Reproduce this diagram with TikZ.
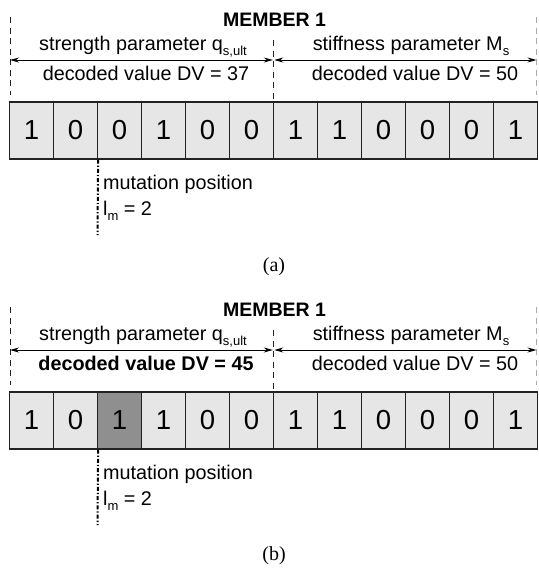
\documentclass[tikz,border=0pt]{standalone}
\usepackage{fontspec}
\setmainfont{Liberation Sans}
\newfontfamily\capfont{Liberation Serif}
\usetikzlibrary{arrows.meta}
\definecolor{cellgray}{HTML}{E6E6E6}
\definecolor{darkcell}{HTML}{8F8F8F}
\definecolor{linegray}{HTML}{222222}
\definecolor{edgegray}{HTML}{AAAAAA}
\tikzset{
 cell/.style={draw=linegray, line width=1.2pt, minimum width=44pt, minimum height=57pt, inner sep=0pt, font=\fontsize{27.5}{27.5}\selectfont},
 lbl/.style={inner sep=0pt, anchor=base, font=\fontsize{19.8}{22}\selectfont},
 bound/.style={draw=linegray, line width=1pt, dash pattern=on 6pt off 4.5pt},
 dim/.style={draw=black, line width=0.9pt, {Stealth[length=9pt,width=5pt]}-{Stealth[length=9pt,width=5pt]}},
 mut/.style={draw=black, line width=2pt, dash pattern=on 4pt off 2pt on 1.3pt off 2pt},
 caplbl/.style={inner sep=0pt, font=\capfont\fontsize{20}{22}\selectfont},
}
\newcommand\mysub[1]{\raisebox{-0.3em}{\fontsize{13}{13}\selectfont #1}}
% #1 prefix, #2 y offset, #3 DV label, #4 digits, #5 highlighted cell, #6 caption, #7 caption y
\newcommand\drawpanel[7]{%
\begin{scope}[yshift=-#2pt]
 \node[lbl, font=\fontsize{19.5}{22}\selectfont\bfseries] (#1title) at (274.5,26) {MEMBER 1};
 \foreach \d [count=\i] in {#4} {
   \ifnum\i=#5 \def\cf{darkcell}\else\def\cf{cellgray}\fi
   \node[cell, fill=\cf] (#1c\i) at ({31.5+44*(\i-1)},130.5) {\d};
 }
 \coordinate (#1lt) at (10,17);
 \coordinate (#1lb) at (10,95);
 \coordinate (#1mt) at (273.5,40);
 \coordinate (#1rt) at (536.7,17);
 \coordinate (#1rb) at (536.7,95);
 \draw[bound] (#1lt) -- (#1lb);
 \draw[bound] (#1mt) -- (#1mt |- #1c6.north);
 \draw[bound, draw=edgegray] (#1rt) -- (#1rb);
 \coordinate (#1al) at (10,60);
 \coordinate (#1am) at (272.8,60);
 \coordinate (#1an) at (274.3,60);
 \coordinate (#1ar) at (536.5,60);
 \draw[dim] (#1al) -- (#1am);
 \draw[dim] (#1an) -- (#1ar);
 \node[lbl] (#1sp) at (143,50) {strength parameter q\mysub{s,ult}};
 \node[lbl] (#1dv) at (146,80.5) {#3};
 \node[lbl] (#1kp) at (411,50) {stiffness parameter M\mysub{s}};
 \node[lbl] (#1dw) at (415,80.5) {decoded value DV = 50};
 \coordinate (#1mb) at (97.5,235);
 \draw[mut] (#1c2.south east) -- (#1mb);
 \node[lbl, anchor=base west] (#1mp) at (103,189) {mutation position};
 \node[lbl, anchor=base west] (#1lm) at (103,215) {l\mysub{m} = 2};
 \node[caplbl] (#1cap) at (274,#7) {#6};
\end{scope}}
\begin{document}
\begin{tikzpicture}[x=1pt,y=-1pt]
\useasboundingbox[fill=white] (0,0) rectangle (538,570);
\drawpanel{a}{0}{decoded value DV = 37}{1,0,0,1,0,0,1,1,0,0,0,1}{0}{(a)}{267}
\drawpanel{b}{290}{\bfseries decoded value DV = 45}{1,0,1,1,0,0,1,1,0,0,0,1}{3}{(b)}{266}
\end{tikzpicture}
\end{document}
